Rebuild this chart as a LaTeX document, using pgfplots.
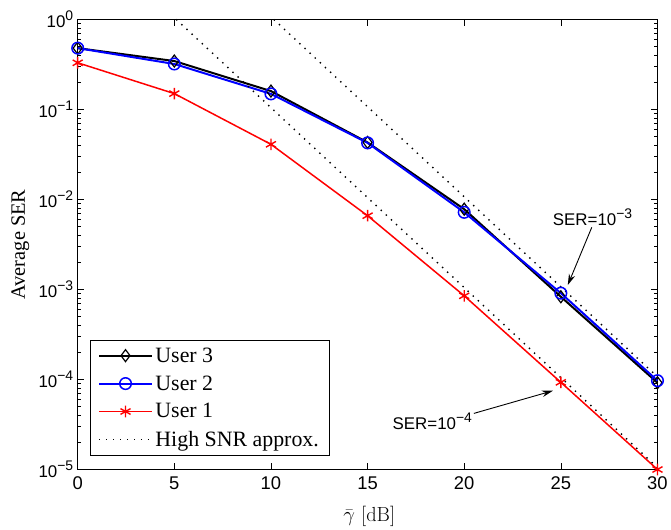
\documentclass[border=0pt]{standalone}
\usepackage{fontspec}
\setmainfont{Liberation Serif}
\setsansfont{Liberation Sans}
\newfontfamily\lmr{Latin Modern Roman}
\usepackage{pgfplots}
\pgfplotsset{compat=1.18}
\usetikzlibrary{arrows.meta}
% raised exponent for sans labels
\newcommand\tsup[1]{\raisebox{7bp}{\fontsize{14}{14}\selectfont #1}}

\begin{document}
\begin{tikzpicture}
\begin{axis}[
  width=581bp, height=451bp, scale only axis,
  xmin=0, xmax=30,
  ymode=log, ymin=1e-5, ymax=1,
  xtick={0,5,10,15,20,25,30},
  xticklabels={0,5,10,15,20,25,30},
  ytick={1e-5,1e-4,1e-3,1e-2,1e-1,1},
  yticklabels={10\tsup{−5},10\tsup{−4},10\tsup{−3},10\tsup{−2},10\tsup{−1},10\tsup{0}},
  xticklabel style={font=\sffamily\fontsize{18.5}{22}\selectfont, yshift=-4bp},
  yticklabel style={font=\sffamily\fontsize{17}{20}\selectfont, xshift=-1bp},
  tick align=inside,
  major tick length=6.5bp, minor tick length=3.5bp,
  every tick/.style={black, line width=0.6bp},
  axis line style={line width=0.8bp},
  clip=false,
  xlabel={{\lmr $\bar{\gamma}$ [dB]}},
  ylabel={Average SER},
  label style={font=\fontsize{20.5}{24}\selectfont},
  xlabel style={at={(axis description cs:0.503,-0.104)}, anchor=center},
  ylabel style={at={(axis description cs:-0.099,0.5)}, anchor=center},
  legend style={at={(axis description cs:0.0207,0.030)}, anchor=south west,
    draw=black, line width=0.8bp, fill=white,
    font=\fontsize{22}{26}\selectfont,
    inner xsep=8bp, inner ysep=5bp, row sep=7bp,
    nodes={inner sep=2.5bp},
    every odd column/.style={column sep=3bp}},
  legend cell align=left,
  legend image code/.code={\draw[mark repeat=2,mark phase=2] plot coordinates {(0bp,0bp) (26.5bp,0bp) (53bp,0bp)};},
]

% User 3
\addplot[black, line width=2bp, mark=diamond, mark size=6bp, mark options={solid, line width=1.2bp}]
  coordinates {(0,0.48) (5,0.345) (10,0.16) (15,0.043) (20,0.0078) (25,0.00083) (30,9.2e-5)};
\addlegendentry{User 3}

% User 2
\addplot[blue, line width=2bp, mark=o, mark size=5.8bp, mark options={solid, line width=1.5bp}]
  coordinates {(0,0.48) (5,0.32) (10,0.149) (15,0.0425) (20,0.0072) (25,0.00091) (30,9.7e-5)};
\addlegendentry{User 2}

% User 1
\addplot[red, line width=1.5bp, mark=asterisk, mark size=5.8bp, mark options={solid, line width=1.4bp}]
  coordinates {(0,0.33) (5,0.15) (10,0.041) (15,0.0066) (20,8.5e-4) (25,9.3e-5) (30,1.0e-5)};
\addlegendentry{User 1}

% high-SNR asymptotes
\addplot[black, line width=1.4bp, dash pattern=on 1.4bp off 5.6bp]
  coordinates {(5.1,1) (30,1.05e-5)};
\addlegendentry{High SNR approx.}
\addplot[black, line width=1.4bp, dash pattern=on 1.4bp off 5.6bp, forget plot]
  coordinates {(10.15,1) (30,1.07e-4)};

% annotations
\node[font=\sffamily\fontsize{17}{20}\selectfont] at (axis cs:26.64,6.4e-3) {SER=10\tsup{−3}};
\draw[-{Stealth[length=11bp,width=6.5bp]}, line width=0.9bp] (axis cs:26.6,4.9e-3) -- (axis cs:25.36,1.12e-3);
\node[font=\sffamily\fontsize{17}{20}\selectfont] at (axis cs:18.35,3.4e-5) {SER=10\tsup{−4}};
\draw[-{Stealth[length=11bp,width=6.5bp]}, line width=0.9bp] (axis cs:20.5,4.2e-5) -- (axis cs:24.59,7.5e-5);

% page margins around the axis
\path (axis description cs:-0.134,-0.125) rectangle (axis description cs:1.0207,1.0432);

\end{axis}
\end{tikzpicture}
\end{document}
